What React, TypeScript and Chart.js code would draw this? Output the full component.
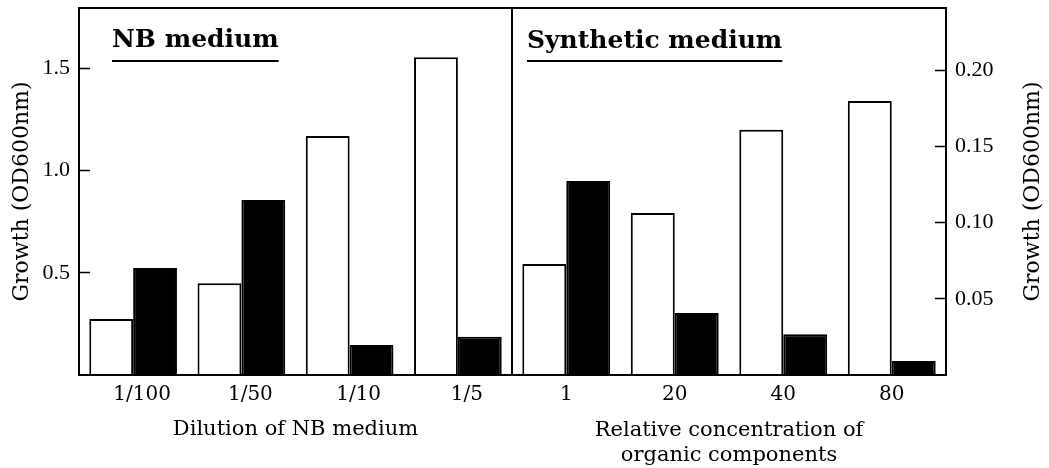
import React, { useEffect, useRef } from 'react';
import { Chart, registerables } from 'chart.js';

Chart.register(...registerables);

// ---- data ----
const nbCategories = ['1/100', '1/50', '1/10', '1/5'];
const nbWhite = [0.274, 0.449, 1.169, 1.554];
const nbBlack = [0.523, 0.856, 0.147, 0.187];

const synCategories = ['1', '20', '40', '80'];
const synWhite = [0.0729, 0.1064, 0.161, 0.18];
const synBlack = [0.1274, 0.0407, 0.0267, 0.0092];

const nbTicks = [0.5, 1.0, 1.5];
const synTicks = [0.05, 0.1, 0.15, 0.2];

const nbTitle = 'NB medium';
const synTitle = 'Synthetic medium';
const yTitle = 'Growth (OD600nm)';
const nbXTitle = 'Dilution of NB medium';
const synXTitle = ['Relative concentration of', 'organic components'];

// ---- styles ----
const SERIF_WIDE = "'DejaVu Serif', serif";
const SERIF_NUM = "'Liberation Serif', serif";
const yTickFont = { family: SERIF_NUM, size: 22 };
const xTickFont = { family: SERIF_WIDE, size: 20 };
const axisTitleFont = { family: SERIF_WIDE, size: 21, lineHeight: 1.2 };
const yTitleFont = { family: SERIF_WIDE, size: 22, lineHeight: 1.2 };

const framePlugin = {
  id: 'frame',
  afterDatasetsDraw(chart: any) {
    const { ctx, chartArea: a } = chart;
    ctx.save();
    ctx.strokeStyle = '#000';
    ctx.lineWidth = 2;
    ctx.strokeRect(a.left, a.top, a.right - a.left, a.bottom - a.top);
    ctx.restore();
  },
};

const panelTitlePlugin = {
  id: 'panelTitle',
  afterDraw(chart: any, _args: any, opts: any) {
    if (!opts || !opts.text) return;
    const { ctx, chartArea: a } = chart;
    ctx.save();
    ctx.fillStyle = '#000';
    ctx.font = `bold ${opts.size}px ${SERIF_WIDE}`;
    ctx.textBaseline = 'alphabetic';
    ctx.textAlign = 'left';
    const x = a.left + opts.dx;
    ctx.fillText(opts.text, x, opts.y);
    const w = ctx.measureText(opts.text).width;
    ctx.strokeStyle = '#000';
    ctx.lineWidth = 2;
    ctx.beginPath();
    ctx.moveTo(x, opts.underlineY);
    ctx.lineTo(x + w, opts.underlineY);
    ctx.stroke();
    ctx.restore();
  },
};

const sideTitlePlugin = {
  id: 'sideTitle',
  afterDraw(chart: any, _args: any, opts: any) {
    if (!opts || !opts.text) return;
    const { ctx, chartArea: a } = chart;
    ctx.save();
    ctx.fillStyle = '#000';
    ctx.font = `${yTitleFont.size}px ${SERIF_WIDE}`;
    ctx.textAlign = 'center';
    ctx.textBaseline = 'middle';
    ctx.translate(a.right + opts.dx, (a.top + a.bottom) / 2);
    ctx.rotate(-Math.PI / 2);
    ctx.fillText(opts.text, 0, 0);
    ctx.restore();
  },
};

function makeConfig(
  labels: string[],
  white: number[],
  black: number[],
  ticks: number[],
  digits: number,
  side: 'left' | 'right',
  yMax: number,
  xTitle: string | string[],
  xTitlePadBottom: number,
  panel: any,
  labelOffset: number
): any {
  return {
    type: 'bar',
    data: {
      labels,
      datasets: [
        { data: white, backgroundColor: '#ffffff', borderColor: '#000000', borderWidth: 2 },
        { data: black, backgroundColor: '#000000', borderColor: '#000000', borderWidth: 2 },
      ],
    },
    options: {
      responsive: false,
      animation: false,
      layout: {
        padding:
          side === 'left'
            ? { top: 8, right: 1, left: 0, bottom: 0 }
            : { top: 8, right: 0, left: 1, bottom: 0 },
      },
      datasets: { bar: { categoryPercentage: 0.81, barPercentage: 1 } },
      plugins: {
        legend: { display: false },
        tooltip: { enabled: false },
        panelTitle: panel,
        sideTitle: side === 'right' ? { text: yTitle, dx: 87 } : {},
      },
      scales: {
        x: {
          type: 'category',
          position: 'bottom',
          grid: { display: false, drawTicks: false },
          border: { display: false },
          ticks: {
            color: '#000',
            font: xTickFont,
            padding: 8,
            labelOffset,
            maxRotation: 0,
            autoSkip: false,
          },
          title: {
            display: true,
            text: xTitle,
            color: '#000',
            font: axisTitleFont,
            padding: { top: 0, bottom: xTitlePadBottom },
          },
          afterFit: (s: any) => {
            s.height = 93;
            s.paddingLeft = 0;
            s.paddingRight = 0;
            s.paddingTop = 0;
            s.paddingBottom = 0;
          },
        },
        y: {
          type: 'linear',
          position: side,
          min: 0,
          max: yMax,
          grid: {
            drawOnChartArea: false,
            drawTicks: true,
            tickLength: -11,
            tickColor: '#000',
            tickWidth: 1.5,
            color: '#000',
          },
          border: { display: false },
          afterBuildTicks: (s: any) => {
            s.ticks = ticks.map((v) => ({ value: v }));
          },
          ticks: {
            color: '#000',
            font: yTickFont,
            padding: 20,
            callback: (v: any) => Number(v).toFixed(digits),
          },
          title: {
            display: side === 'left',
            text: yTitle,
            color: '#000',
            font: yTitleFont,
            padding: { top: 9, bottom: 0 },
          },
          afterFit: (s: any) => {
            s.width = side === 'left' ? 79 : 103;
            s.paddingLeft = 0;
            s.paddingRight = 0;
            s.paddingTop = 0;
            s.paddingBottom = 0;
          },
        },
      },
    },
    plugins: [framePlugin, panelTitlePlugin, sideTitlePlugin],
  };
}

export default function App() {
  const leftRef = useRef<HTMLCanvasElement>(null);
  const rightRef = useRef<HTMLCanvasElement>(null);

  useEffect(() => {
    const left = new Chart(
      leftRef.current as HTMLCanvasElement,
      makeConfig(
        nbCategories,
        nbWhite,
        nbBlack,
        nbTicks,
        1,
        'left',
        1.795,
        nbXTitle,
        26,
        { text: nbTitle, dx: 33, y: 47, underlineY: 61, size: 25 },
        9
      )
    );
    const right = new Chart(
      rightRef.current as HTMLCanvasElement,
      makeConfig(
        synCategories,
        synWhite,
        synBlack,
        synTicks,
        2,
        'right',
        0.241,
        synXTitle,
        0,
        { text: synTitle, dx: 15, y: 48, underlineY: 61, size: 25 },
        0
      )
    );
    return () => {
      left.destroy();
      right.destroy();
    };
  }, []);

  return (
    <div
      style={{
        position: 'fixed',
        left: 0,
        top: 0,
        width: 1049,
        height: 468,
        background: '#fff',
        overflow: 'hidden',
      }}
    >
      <canvas
        ref={leftRef}
        width={513}
        height={468}
        style={{ position: 'absolute', left: 0, top: 0, width: 513, height: 468 }}
      />
      <canvas
        ref={rightRef}
        width={538}
        height={468}
        style={{ position: 'absolute', left: 511, top: 0, width: 538, height: 468 }}
      />
    </div>
  );
}
